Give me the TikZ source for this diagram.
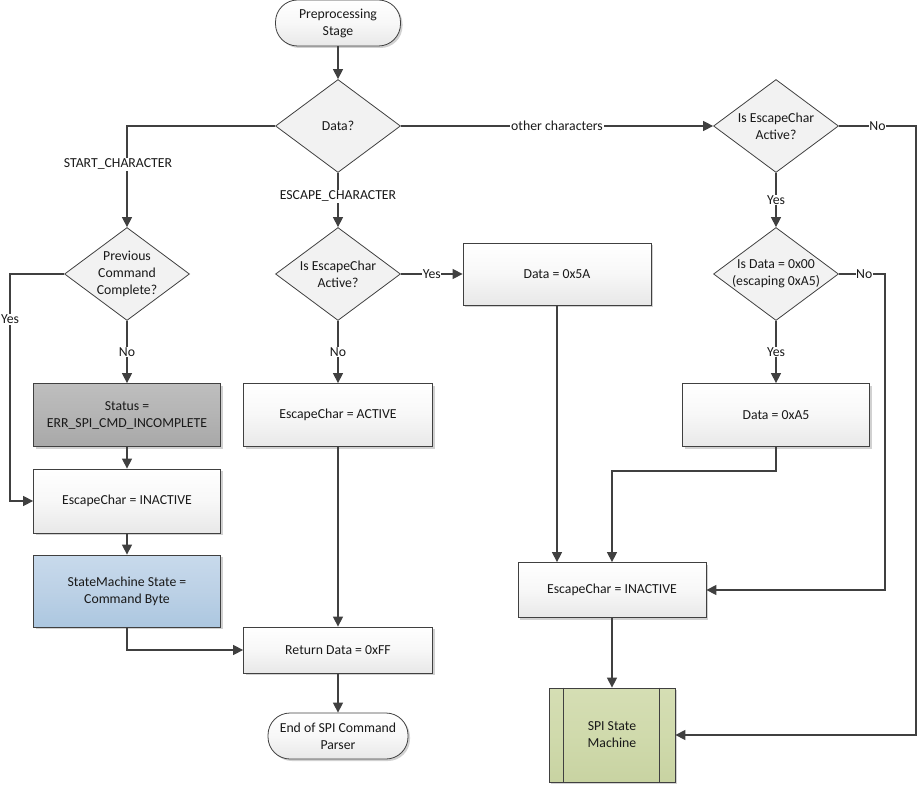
\documentclass[tikz,border=0pt]{standalone}
\usepackage{fontspec}
\setmainfont{Carlito}
\usetikzlibrary{arrows.meta,shapes.geometric,shadows}
\definecolor{ln}{HTML}{404040}
\begin{document}
\begin{tikzpicture}[x=1pt,y=-1pt,
  font=\fontsize{13.75}{17}\selectfont,
  every node/.style={text=black!90},
  conn/.style={draw=ln,line width=1.4pt,-{Triangle[length=10pt,width=10pt]}},
  shd/.style={drop shadow={shadow xshift=2pt,shadow yshift=-2pt,fill=black!18,opacity=1}},
  boxs/.style={shd,rectangle,draw=ln,line width=0.8pt,top color=white,bottom color=black!9,middle color=black!3,align=center,inner sep=2pt},
  term/.style={boxs,rounded corners=22pt,minimum width=125pt,minimum height=46pt},
  dec/.style={diamond,draw=ln,line width=0.8pt,fill=black!5,inner sep=0pt,minimum width=125pt,minimum height=93pt},
  dtext/.style={align=center,inner sep=0pt},
  lbl/.style={fill=white,inner sep=1pt,text=black!90}]
\useasboundingbox (0,0) rectangle (918,786);
% nodes
\node[term] (pre) at (338,23) {Preprocessing\\Stage};
\node[dec] (data) at (338,126) {};
\node[dtext] (datat) at (data) {Data?};
\node[dec] (prev) at (127,274) {};
\node[dtext] (prevt) at (prev) {Previous\\Command\\Complete?};
\node[dec] (esc) at (338,274) {};
\node[dtext] (esct) at (esc) {Is EscapeChar\\Active?};
\node[dec] (rd1) at (776,126) {};
\node[dtext] (rd1t) at (rd1) {Is EscapeChar\\Active?};
\node[dec] (rd2) at (776,274) {};
\node[dtext] (rd2t) at (rd2) {Is Data = 0x00\\(escaping 0xA5)};
\node[boxs,minimum width=187pt,minimum height=63pt,top color={rgb,255:red,190;green,190;blue,190},bottom color={rgb,255:red,168;green,168;blue,168},middle color={rgb,255:red,180;green,180;blue,180}] (status) at (127,415) {Status =\\ERR\_SPI\_CMD\_INCOMPLETE};
\node[boxs,minimum width=187pt,minimum height=64pt] (inl) at (127,501) {EscapeChar = INACTIVE};
\node[boxs,minimum width=187pt,minimum height=72pt,top color={rgb,255:red,200;green,218;blue,236},bottom color={rgb,255:red,172;green,199;blue,224},middle color={rgb,255:red,188;green,209;blue,230}] (sm) at (127,591) {StateMachine State =\\Command Byte};
\node[boxs,minimum width=189pt,minimum height=63pt] (act) at (338,415) {EscapeChar = ACTIVE};
\node[boxs,minimum width=189pt,minimum height=46pt] (ret) at (338,650) {Return Data = 0xFF};
\node[term,minimum width=140pt] (end) at (338,736) {End of SPI Command\\Parser};
\node[boxs,minimum width=188pt,minimum height=62pt] (x5a) at (557,274) {Data = 0x5A};
\node[boxs,minimum width=187pt,minimum height=63pt] (a5) at (776,415) {Data = 0xA5};
\node[boxs,minimum width=188pt,minimum height=55pt] (inr) at (612,590) {EscapeChar = INACTIVE};
\node[boxs,minimum width=126pt,minimum height=94pt,top color={rgb,255:red,213;green,222;blue,180},bottom color={rgb,255:red,200;green,211;blue,162},middle color={rgb,255:red,208;green,218;blue,172}] (spi) at (612,735) {SPI State\\Machine};
\draw[draw=ln,line width=0.8pt] ([xshift=15pt]spi.north west) -- ([xshift=15pt]spi.south west);
\draw[draw=ln,line width=0.8pt] ([xshift=-16pt]spi.north east) -- ([xshift=-16pt]spi.south east);
% coordinates
\coordinate (farR) at (916,126);
\coordinate (noR2) at (885,274);
\coordinate (yesL) at (10,274);
% connectors
\draw[conn] (pre) -- (data);
\draw[conn] (data.west) -| (prev.north) node[pos=0.69,lbl,xshift=-9pt] {START\_CHARACTER};
\draw[conn] (data.south) -- (esc.north) node[pos=0.43,lbl] {ESCAPE\_CHARACTER};
\draw[conn] (data.east) -- (rd1.west) node[pos=0.5,lbl] {other characters};
\draw[conn] (rd1.east) -- (farR) node[midway,lbl,inner sep=0.5pt] {No} |- (spi.east);
\draw[conn] (rd1.south) -- (rd2.north) node[midway,lbl] {Yes};
\draw[conn] (rd2.east) -- (noR2) node[pos=0.55,lbl,inner sep=0.5pt] {No} |- (inr.east);
\draw[conn] (rd2.south) -- (a5.north) node[midway,lbl] {Yes};
\draw[conn] (a5.south) -- ++(0,24) -| (inr.north);
\draw[conn] (x5a.south) -- (x5a.south |- inr.north);
\draw[conn] (esc.east) -- (x5a.west) node[midway,lbl,inner sep=0.5pt] {Yes};
\draw[conn] (esc.south) -- (act.north) node[midway,lbl] {No};
\draw[conn] (act.south) -- (ret.north);
\draw[conn] (prev.south) -- (status.north) node[midway,lbl] {No};
\draw[conn] (prev.west) -- (yesL) -- (yesL |- inl.west) node[pos=0.2,lbl] {Yes} -- (inl.west);
\draw[conn] (status.south) -- (inl.north);
\draw[conn] (inl.south) -- (sm.north);
\draw[conn] (sm.south) |- (ret.west);
\draw[conn] (ret.south) -- (end.north);
\draw[conn] (inr.south) -- (spi.north);
\end{tikzpicture}
\end{document}
